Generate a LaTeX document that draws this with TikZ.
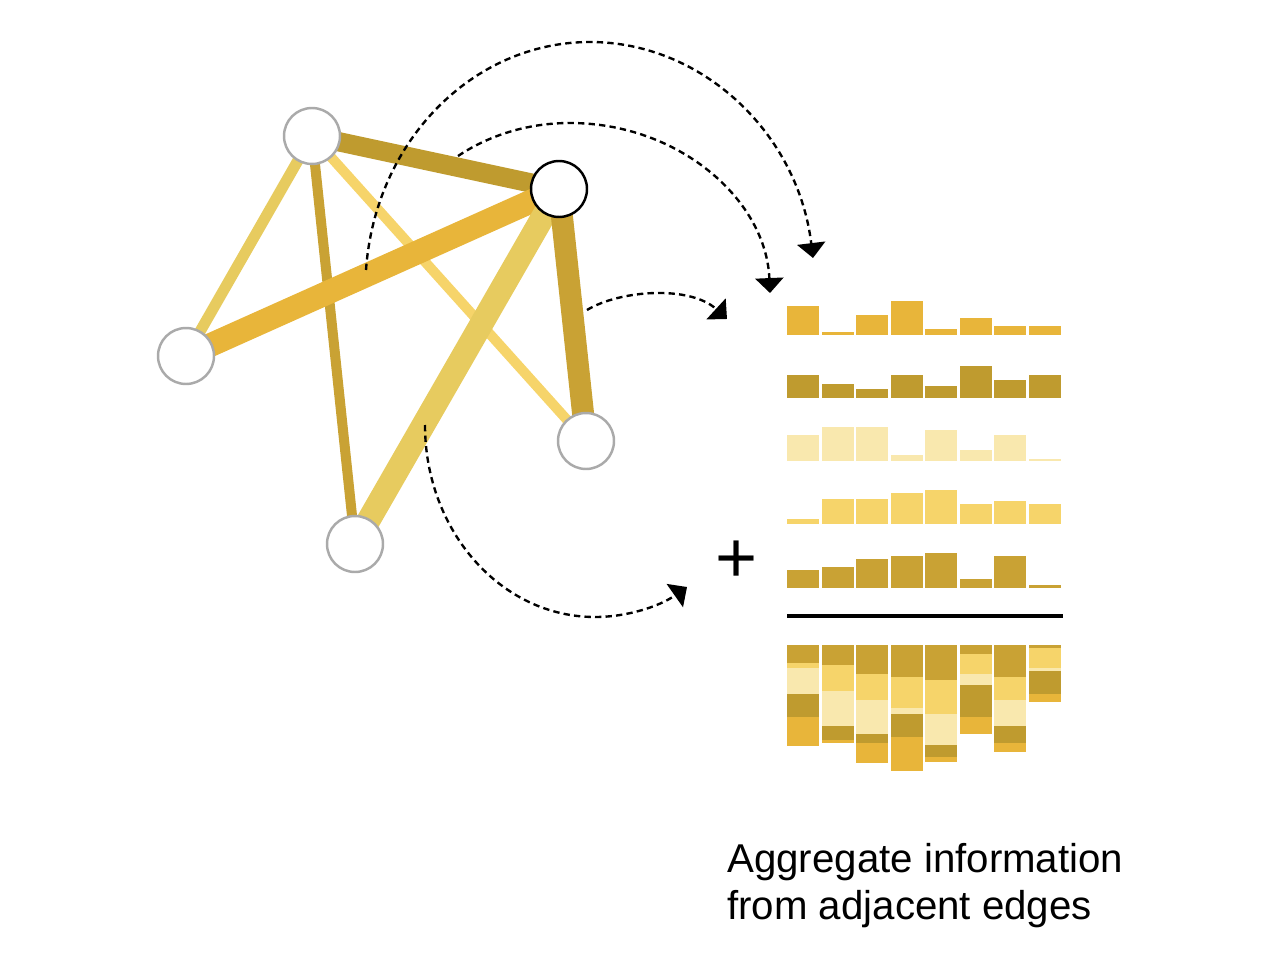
\documentclass[tikz,border=0pt]{standalone}
\usepackage{fontspec}
\setmainfont{Liberation Sans}
\usetikzlibrary{arrows.meta,backgrounds}
\definecolor{barorange}{HTML}{E8B53A}
\definecolor{bardark}{HTML}{BF9B2F}
\definecolor{barpale}{HTML}{F9E8AE}
\definecolor{baryellow}{HTML}{F6D46A}
\definecolor{barolive}{HTML}{C9A234}
\definecolor{linkmustard}{HTML}{E7CB5F}
\definecolor{vertexgray}{HTML}{AAAAAA}

\begin{document}
\begin{tikzpicture}[x=0.02cm, y=-0.02cm,
  vertex/.style={circle, draw=vertexgray, line width=1.4pt, fill=white,
                 minimum size=1.12cm, inner sep=0pt},
  focus/.style={vertex, draw=black},
  link/.style={line width=#1},
  flow/.style={-{Triangle[width=16pt,length=8.5pt]}, line width=1.35pt,
               dash pattern=on 3.6pt off 2.4pt},
  caption/.style={font=\fontsize{22.9pt}{26.5pt}\selectfont, align=left,
                  inner sep=0pt},
]
\useasboundingbox (0,0) rectangle (1274,956);

\def\hA{{28.7,2.7,20,34,5.3,16.7,8.7,8.7}}
\def\hB{{23,14.3,9,23,11.6,31.6,17.6,23}}
\def\hC{{26,34.6,34.6,6,31.3,11.3,26,2.6}}
\def\hD{{5.3,25.6,25.6,31.6,34.3,20,23,20.3}}
\def\hE{{17.7,20.4,29,31.7,34.7,9,31.7,2.7}}

% ── Graph ───────────────────────────────────────────────────────────────
\node[vertex] (a) at (312,136) {};
\node[focus]  (b) at (559,189) {};
\node[vertex] (c) at (186,356) {};
\node[vertex] (d) at (586,441) {};
\node[vertex] (e) at (355,544) {};

\begin{scope}[on background layer]
  \draw[link=6.3pt, linkmustard] (a.center) -- (c.center);
  \draw[link=5.7pt, barolive] (a.center) -- (e.center);
  \draw[link=5.7pt, baryellow] (a.center) -- (d.center);
  \draw[link=11pt, bardark] (a.center) -- (b.center);
  \draw[link=13.5pt, barorange] (c.center) -- (b.center);
  \draw[link=13.5pt, linkmustard] (e.center) -- (b.center);
  \draw[link=12.5pt, barolive] (b.center) -- (d.center);
\end{scope}

% ── Messages ────────────────────────────────────────────────────────────
\coordinate (outS) at (366,270);  \coordinate (outE) at (813,258);
\coordinate (midS) at (458,156);  \coordinate (midE) at (770,293);
\coordinate (smS)  at (587,310);  \coordinate (smE)  at (727,319);
\coordinate (botS) at (425,425);  \coordinate (botE) at (687,587);

\draw[flow] (outS) .. controls (375,141) and (473,42) .. (590,42)
  .. controls (703,42) and (798,134) .. (outE);
\draw[flow] (midS) .. controls (491,134) and (530,123) .. (570,123)
  .. controls (678,123) and (766,199) .. (midE);
\draw[flow] (smS) .. controls (620,290) and (690,285) .. (smE);
\draw[flow] (botS) .. controls (425,531) and (501,617) .. (595,617)
  .. controls (628,617) and (660,606) .. (botE);

% ── Edge features ───────────────────────────────────────────────────────
\foreach \row/\base/\col in {\hA/334.7/barorange, \hB/398/bardark,
    \hC/461.2/barpale, \hD/524.4/baryellow, \hE/587.7/barolive}
  \foreach \c in {0,...,7}{
    \pgfmathsetmacro\h{\row[\c]}
    \fill[\col] ({787.3+34.5*\c},\base) rectangle ++(31.7,-\h);
  }

\node[font=\fontsize{41pt}{41pt}\selectfont, inner sep=0pt] (plus) at (737,562) {+};
\coordinate (sepL) at (787,616);  \coordinate (sepR) at (1063,616);
\draw[line width=2.1pt] (sepL) -- (sepR);

% sum, stacked from the last row down to the first
\foreach \c in {0,...,7}{
  \pgfmathsetmacro\x{787.3+34.5*\c}
  \pgfmathsetmacro\yb{645+\hE[\c]}
  \pgfmathsetmacro\yc{\yb+\hD[\c]}
  \pgfmathsetmacro\yd{\yc+\hC[\c]}
  \pgfmathsetmacro\ye{\yd+\hB[\c]}
  \pgfmathsetmacro\yf{\ye+\hA[\c]}
  \fill[barolive]  (\x,645) rectangle (\x+31.7,\yb);
  \fill[baryellow] (\x,\yb) rectangle (\x+31.7,\yc);
  \fill[barpale]   (\x,\yc) rectangle (\x+31.7,\yd);
  \fill[bardark]   (\x,\yd) rectangle (\x+31.7,\ye);
  \fill[barorange] (\x,\ye) rectangle (\x+31.7,\yf);
}

\node[caption, anchor=north west] (text) at (727,843)
  {Aggregate information\\from adjacent edges};

\end{tikzpicture}
\end{document}
